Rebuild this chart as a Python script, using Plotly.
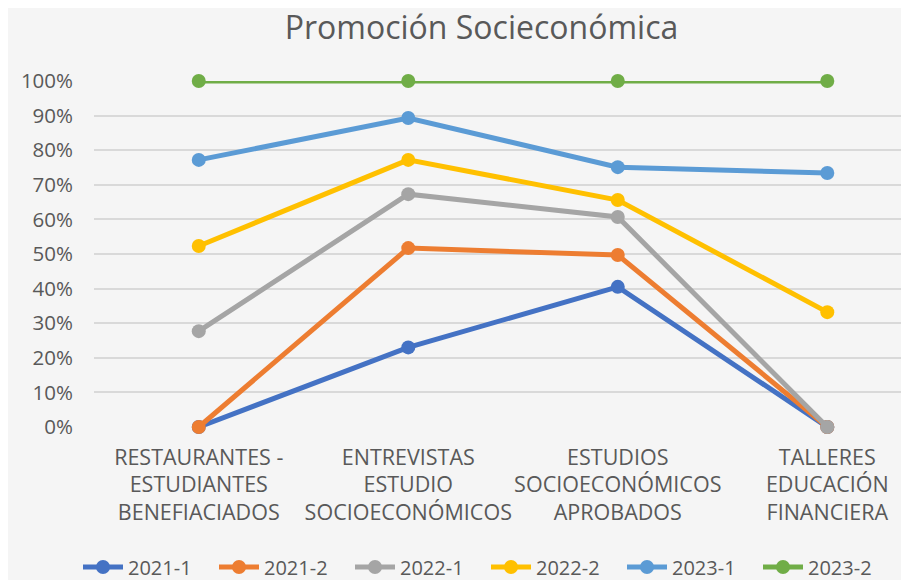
import plotly.graph_objects as go

categories = [
    "RESTAURANTES -<br>ESTUDIANTES<br>BENEFIACIADOS",
    "ENTREVISTAS<br>ESTUDIO<br>SOCIOECONÓMICOS",
    "ESTUDIOS<br>SOCIOECONÓMICOS<br>APROBADOS",
    "TALLERES<br>EDUCACIÓN<br>FINANCIERA",
]
series_names = ["2021-1", "2021-2", "2022-1", "2022-2", "2023-1", "2023-2"]
v_2021_1 = [0.00, 0.23, 0.405, 0.00]
v_2021_2 = [0.00, 0.517, 0.497, 0.00]
v_2022_1 = [0.277, 0.673, 0.607, 0.00]
v_2022_2 = [0.523, 0.772, 0.656, 0.332]
v_2023_1 = [0.772, 0.893, 0.751, 0.734]
v_2023_2 = [1.00, 1.00, 1.00, 1.00]
values = [v_2021_1, v_2021_2, v_2022_1, v_2022_2, v_2023_1, v_2023_2]
colors = ["#4472C4", "#ED7D31", "#A5A5A5", "#FFC000", "#5B9BD5", "#70AD47"]
y_ticks = [i / 10 for i in range(11)]
y_tick_labels = [f"{i * 10}%" for i in range(11)]

FONT = "Open Sans, sans-serif"
GREY = "#595959"
BG = "#f5f5f5"

fig = go.Figure()
for name, vals, col in zip(series_names, values, colors):
    fig.add_trace(go.Scatter(
        x=list(range(len(categories))), y=vals, name=name,
        mode="lines+markers",
        line=dict(color=col, width=5),
        marker=dict(color=col, size=14),
        cliponaxis=False,
    ))

# the page body adds an 8px offset, so figure coordinates are shifted by -8
fig.update_layout(
    width=909, height=580,
    margin=dict(l=86, r=8, t=73, b=161, autoexpand=False),
    paper_bgcolor=BG, plot_bgcolor=BG,
    title=dict(text="Promoción Socieconómica", x=473.5 / 909, xref="container", xanchor="center",
               y=1 - 20 / 580, yref="container", yanchor="middle", automargin=False,
               font=dict(family=FONT, size=32, color=GREY)),
    font=dict(family=FONT, size=20, color=GREY),
    showlegend=True,
    legend=dict(orientation="h", x=70 / 909, xref="container", xanchor="left",
                y=-140 / 346, yref="paper", yanchor="middle",
                font=dict(family=FONT, size=20, color=GREY),
                bgcolor="rgba(0,0,0,0)", itemwidth=40, tracegroupgap=0,
                entrywidth=81),
    xaxis=dict(range=[-0.5, 3.39], tickmode="array", automargin=False,
               tickvals=list(range(len(categories))), ticktext=categories,
               showgrid=False, zeroline=False, showline=False, ticks="",
               ticklabelstandoff=15,
               tickfont=dict(family=FONT, size=21.5, color=GREY)),
    yaxis=dict(range=[0, 1], tickmode="array", tickvals=y_ticks, ticktext=y_tick_labels,
               automargin=False,
               showgrid=True, gridcolor="#d9d9d9", gridwidth=1.5,
               zeroline=False, showline=False, ticks="", ticklabelstandoff=20,
               tickfont=dict(family=FONT, size=20.5, color=GREY)),
)

fig.write_html("out.html")
